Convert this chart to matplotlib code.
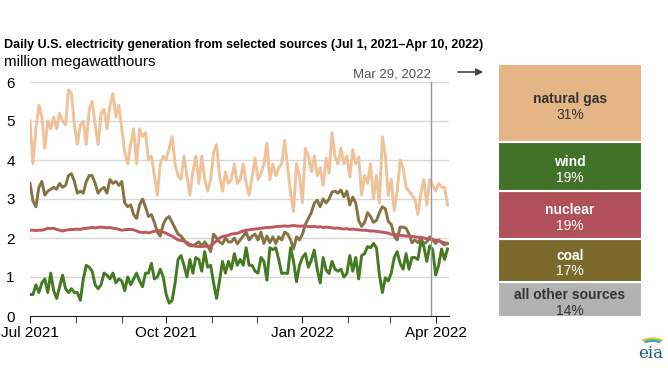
import numpy as np
import pandas as pd
import matplotlib
matplotlib.use("Agg")
import matplotlib.pyplot as plt
import matplotlib.dates as mdates
from matplotlib.patches import Arc

plt.rcParams['font.family'] = ['Liberation Sans', 'DejaVu Sans']

# every second day, Jul 1 2021 .. Apr 9 2022 (million MWh)
dates = pd.date_range('2021-07-01', periods=142, freq='2D')

natural_gas = [
    5.0, 3.9, 4.8, 5.4, 5.1, 4.3, 5.0, 4.8, 5.1, 4.8, 5.2, 5.0, 4.9, 5.8, 5.7,
    4.9, 4.4, 4.9, 5.0, 4.4, 5.3, 5.5, 4.9, 4.4, 5.2, 5.3, 4.8, 5.4, 5.7, 5.1,
    5.4, 4.8, 4.2, 3.9, 4.4, 4.8, 3.9, 4.8, 4.6, 4.7, 4.0, 4.1, 3.6, 3.1, 3.9,
    4.1, 4.0, 4.3, 4.6, 3.9, 3.6, 3.5, 4.1, 3.6, 3.1, 3.7, 4.1, 3.4, 4.1, 3.5,
    3.2, 3.5, 4.2, 4.4, 3.6, 3.2, 3.7, 3.4, 3.5, 3.9, 3.4, 3.5, 3.9, 3.4, 3.1,
    3.56, 4.05, 3.5, 3.66, 3.9, 4.43, 3.5, 3.9, 3.6, 3.8, 3.9, 4.5, 3.83, 3.15,
    2.68, 3.9, 3.6, 2.9, 4.3, 4.1, 3.7, 4.1, 3.6, 3.8, 3.35, 4.05, 3.66, 4.7,
    4.1, 3.9, 4.3, 3.9, 4.1, 3.56, 4.26, 3.9, 4.08, 3.1, 3.6, 3.4, 3.9, 3.0,
    3.6, 2.9, 4.6, 4.1, 3.1, 3.5, 2.7, 3.2, 4.0, 3.8, 3.3, 3.2, 3.1, 3.0, 2.6,
    3.15, 3.5, 2.85, 3.5, 3.35, 3.2, 3.4, 3.3, 3.3, 2.85]

coal = [
    3.4, 2.95, 2.8, 3.3, 3.45, 3.1, 3.2, 3.25, 3.3, 3.25, 3.4, 3.3, 3.35, 3.6,
    3.65, 3.45, 3.15, 3.2, 3.15, 3.45, 3.6, 3.6, 3.4, 3.15, 3.25, 3.3, 3.15,
    3.5, 3.4, 3.45, 3.35, 3.45, 2.9, 2.8, 2.85, 2.6, 2.5, 2.85, 3.0, 2.8, 2.55,
    2.6, 2.4, 2.15, 2.05, 2.35, 2.5, 2.55, 2.4, 2.25, 2.1, 2.05, 1.95, 1.85,
    1.8, 1.8, 1.85, 1.9, 1.8, 1.9, 1.8, 1.65, 2.1, 2.0, 1.9, 1.85, 2.0, 1.9,
    1.9, 2.0, 1.85, 1.95, 2.05, 2.15, 1.95,
    2.05, 2.1, 1.95, 2.15, 1.86, 2.05, 1.88, 2.03, 1.86, 2.03, 1.95, 2.15, 2.1,
    1.95, 1.72, 2.03, 1.95, 2.1, 2.35, 2.5, 2.65, 2.89, 2.97, 2.8, 3.0, 2.9,
    3.0, 3.18, 3.2, 3.15, 3.23, 3.06, 3.2, 2.85, 3.05, 2.9, 2.45, 2.3, 2.4,
    2.65, 2.55, 2.4, 2.45, 2.65, 2.8, 2.75, 2.42, 2.35, 2.05, 1.95, 2.28, 2.28,
    2.25, 2.1, 1.88, 1.95, 1.88, 2.0, 1.85, 1.9, 2.03, 1.95, 1.86, 1.95, 1.88,
    1.82, 1.86]

nuclear = [
    2.2, 2.2, 2.19, 2.2, 2.2, 2.22, 2.25, 2.24, 2.25, 2.22, 2.2, 2.18, 2.2,
    2.21, 2.22, 2.22, 2.23, 2.22, 2.24, 2.25, 2.26, 2.27, 2.26, 2.27, 2.28,
    2.27, 2.26, 2.27, 2.25, 2.24, 2.22, 2.2, 2.21, 2.22, 2.22, 2.21, 2.18,
    2.15, 2.14, 2.15, 2.13, 2.15, 2.17, 2.2, 2.18, 2.15, 2.12, 2.08, 2.05, 2.0,
    1.95, 1.94, 1.92, 1.88, 1.84, 1.8, 1.79, 1.78, 1.78, 1.79, 1.78, 1.8, 1.86,
    1.93, 2.0, 2.04, 2.05, 2.07, 2.1, 2.11, 2.12, 2.15, 2.18, 2.2, 2.21,
    2.22, 2.23, 2.24, 2.25, 2.26, 2.27, 2.27, 2.28, 2.29, 2.3, 2.3, 2.31, 2.3,
    2.31, 2.32, 2.31, 2.3, 2.31, 2.3, 2.3, 2.29, 2.3, 2.28, 2.29, 2.27, 2.28,
    2.27, 2.26, 2.25, 2.26, 2.24, 2.23, 2.24, 2.22, 2.23, 2.22, 2.21, 2.2, 2.2,
    2.19, 2.18, 2.18, 2.17, 2.16, 2.15, 2.14, 2.12, 2.1, 2.09, 2.08, 2.07,
    2.06, 2.05, 2.05, 2.04, 2.03, 2.02, 2.02, 2.0, 1.98, 1.97, 1.96, 1.94,
    1.92, 1.9, 1.88, 1.86]

wind = [
    0.55, 0.55, 0.8, 0.6, 0.85, 0.95, 0.6, 1.1, 0.65, 0.45, 0.75, 1.05, 0.7,
    0.6, 0.7, 0.6, 0.6, 0.4, 0.95, 1.3, 1.25, 1.15, 0.8, 0.7, 0.8, 1.1, 1.05,
    0.95, 1.1, 0.85, 0.95, 0.9, 0.65, 1.0, 0.8, 0.95, 1.1, 0.9, 0.75, 1.1, 1.1,
    1.35, 0.95, 1.0, 1.2, 1.0, 0.55, 0.33, 0.4, 0.85, 1.45, 1.55, 1.3, 1.0,
    1.45, 1.1, 1.5, 1.45, 1.15, 1.65, 1.25, 1.3, 0.85, 0.45, 0.9, 1.4, 1.1,
    1.4, 1.2, 1.6, 1.3, 1.45, 1.3, 1.75, 1.3,
    1.3, 1.15, 1.1, 1.5, 1.4, 0.92, 1.75, 1.7, 1.75, 1.45, 1.09, 1.1, 1.09,
    1.75, 1.4, 0.88, 1.3, 1.5, 1.6, 1.25, 1.43, 1.69, 1.2, 0.85, 1.5, 1.18,
    1.09, 1.4, 1.2, 1.15, 1.2, 1.0, 1.09, 1.55, 1.15, 1.5, 0.95, 1.55, 1.6,
    1.78, 1.75, 1.86, 1.75, 1.05, 0.6, 0.98, 0.9, 1.1, 1.5, 1.65, 1.35, 1.2,
    1.6, 1.2, 1.5, 1.5, 1.45, 1.9, 1.78, 1.4, 1.8, 1.7, 1.05, 1.3, 1.72, 1.45,
    1.72]

# shares on Mar 29, 2022, bottom to top
share_labels = ['all other sources', 'coal', 'nuclear', 'wind', 'natural gas']
share_values = [14, 17, 19, 19, 31]

c_gas_line = '#EFC29A'
c_coal_line = '#857443'
c_nuc_line = '#C0575F'
c_wind_line = '#437A22'
box_colors = ['#B2B2B2', '#7B6A2C', '#B2505A', '#42722A', '#E4B686']
box_text = ['#333333', 'white', 'white', 'white', '#333333']

W, H = 668, 376
fig = plt.figure(figsize=(W / 100, H / 100), dpi=100)

ax = fig.add_axes([30 / W, 1 - 316 / H, (449 - 30) / W, (316 - 82) / H])
ax.plot(dates, natural_gas, color=c_gas_line, lw=2.1, solid_joinstyle='round')
ax.plot(dates, coal, color=c_coal_line, lw=2.1, solid_joinstyle='round')
ax.plot(dates, nuclear, color=c_nuc_line, lw=2.1)
ax.plot(dates, wind, color=c_wind_line, lw=2.1, solid_joinstyle='round')

ax.set_xlim(pd.Timestamp('2021-07-01'), pd.Timestamp('2022-04-10'))
ax.set_ylim(0, 6)
ax.set_yticks(range(0, 7))
for v in range(1, 7):
    ax.axhline(v, color='#D9D9D9', lw=1, zorder=0)
for s in ['top', 'right', 'left']:
    ax.spines[s].set_visible(False)
ax.spines['bottom'].set_color('#222222')
ax.tick_params(axis='y', length=0, pad=11, labelsize=11)

ax.xaxis.set_major_locator(mdates.MonthLocator(bymonth=[1, 4, 7, 10]))
ax.xaxis.set_major_formatter(mdates.DateFormatter('%b %Y'))
ax.xaxis.set_minor_locator(mdates.MonthLocator())
ax.tick_params(axis='x', which='both', length=5, color='#222222', labelsize=11, pad=2)

mar29 = pd.Timestamp('2022-03-29')
ax.axvline(mar29, color='#999999', lw=1, ymin=0, ymax=1, clip_on=False)
ax.annotate('Mar 29, 2022', xy=(mar29, 6.05), xycoords='data', ha='right', va='bottom',
            fontsize=9.5, color='#555555', annotation_clip=False)
ax.annotate('', xy=(486 / W, 1 - 72 / H), xycoords='figure fraction',
            xytext=(455 / W, 1 - 72 / H), textcoords='figure fraction',
            arrowprops=dict(arrowstyle='-|>', color='#444444', lw=1.2, mutation_scale=10))

fig.text(4 / W, 1 - 45 / H, 'Daily U.S. electricity generation from selected sources (Jul 1, 2021\u2013Apr 10, 2022)',
         fontsize=9, fontweight='bold', va='center', ha='left')
fig.text(4 / W, 1 - 62 / H, 'million megawatthours', fontsize=11, va='center', ha='left')

# share panel
bx = fig.add_axes([498 / W, 1 - 317 / H, (642 - 498) / W, (317 - 64) / H])
bottom = 0
for lab, val, col, tc in zip(share_labels, share_values, box_colors, box_text):
    bx.bar(0, val, bottom=bottom, width=1, color=col, edgecolor='white', lw=1.5)
    mid = bottom + val / 2
    bx.text(0, mid + 1.8, lab, ha='center', va='center', fontsize=10,
            fontweight='bold', color=tc)
    bx.text(0, mid - 4.5, f'{val}%', ha='center', va='center', fontsize=10, color=tc)
    bottom += val
bx.set_xlim(-0.5, 0.5)
bx.set_ylim(0, sum(share_values))
bx.axis('off')

# eia mark
fig.text(651 / W, 1 - 353 / H, 'eia', family='DejaVu Serif', fontsize=12,
         color='#1F5A8C', ha='center', va='center')
lx = fig.add_axes([636 / W, 1 - 350 / H, 30 / W, 18 / H])
for r, col in [(1.0, '#F2C12E'), (0.85, '#8DC63F'), (0.7, '#29A3D6')]:
    lx.add_patch(Arc((0.6, -0.2), 2 * r, 1.6 * r, theta1=40, theta2=140, color=col, lw=1.4))
lx.set_xlim(-0.5, 1.5)
lx.set_ylim(-0.5, 1.2)
lx.axis('off')

fig.savefig('out.png', dpi=100)
